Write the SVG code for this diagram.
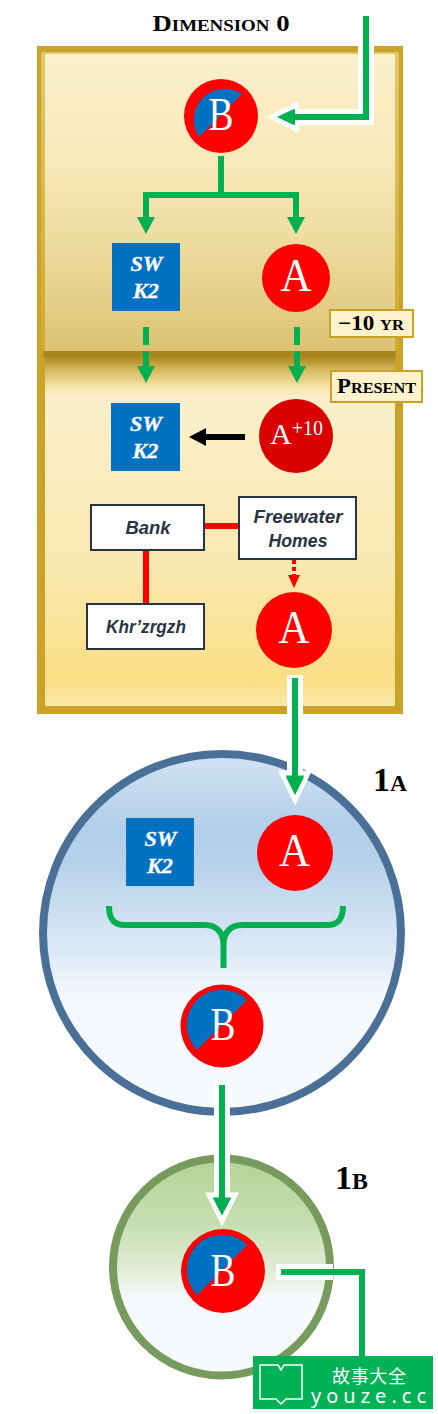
<svg xmlns="http://www.w3.org/2000/svg" width="438" height="1414" viewBox="0 0 438 1414">
<style>
.g{fill:none;stroke:#00b050;stroke-width:6}
.w{fill:none;stroke:#fff;stroke-width:16}
.ga{fill:#00b050}
.wa{fill:#00b050;stroke:#fff;stroke-width:5}
.r{fill:none;stroke:#f00;stroke-width:6}
.ltr{font-family:"Liberation Serif",serif;fill:#fff;text-anchor:middle}
.sw{font-family:"Liberation Serif",serif;font-weight:bold;font-style:italic;font-size:22px;fill:#fff;stroke:#fff;stroke-width:0.300;text-anchor:middle}
.sc{font-family:"Liberation Serif",serif;font-weight:bold;font-variant:small-caps;fill:#000;text-anchor:middle}
.box{fill:#fff;stroke:#2a3342;stroke-width:2}
.bt{font-family:"Liberation Sans",sans-serif;font-weight:bold;font-style:italic;font-size:18px;fill:#2a3342;text-anchor:middle}
.lab{fill:#fff2cc;stroke:#c9a227;stroke-width:2}
.blue{fill:#0070c0}
.red{fill:#f00}
</style>
<defs>
<linearGradient id="p1" x1="0" y1="0" x2="0" y2="1">
<stop offset="0" stop-color="#fbf0cd"/><stop offset="0.35" stop-color="#f8e9ba"/><stop offset="0.7" stop-color="#ebd898"/><stop offset="1" stop-color="#dcc172"/>
</linearGradient>
<linearGradient id="p2" x1="0" y1="0" x2="0" y2="1">
<stop offset="0" stop-color="#a8841c"/><stop offset="0.025" stop-color="#b3902a"/><stop offset="0.05" stop-color="#d4b558"/><stop offset="0.1" stop-color="#f4e2a8"/><stop offset="0.13" stop-color="#fbf0cc"/><stop offset="0.6" stop-color="#f9e8b0"/><stop offset="0.93" stop-color="#fbdf85"/><stop offset="1" stop-color="#f8e8a8"/>
</linearGradient>
<linearGradient id="band" x1="0" y1="0" x2="0" y2="1">
<stop offset="0" stop-color="#e2c76e"/><stop offset="1" stop-color="#cfa92c"/>
</linearGradient>
<linearGradient id="c1" x1="0" y1="0" x2="0" y2="1">
<stop offset="0" stop-color="#d2e2f3"/><stop offset="0.2" stop-color="#b2cfe9"/><stop offset="0.3" stop-color="#b6d1ea"/><stop offset="0.55" stop-color="#dce9f5"/><stop offset="0.68" stop-color="#f5f9fd"/><stop offset="1" stop-color="#f7fafd"/>
</linearGradient>
<linearGradient id="c2" x1="0" y1="0" x2="0" y2="1">
<stop offset="0" stop-color="#b3d297"/><stop offset="0.3" stop-color="#c6dfb1"/><stop offset="0.5" stop-color="#dfebd3"/><stop offset="0.65" stop-color="#f5f9fc"/><stop offset="1" stop-color="#f7fafd"/>
</linearGradient>
<g id="bnode">
<circle r="37" fill="#f00"/>
<path d="M21,-22A31,31 0 0 0 -22,21Z" fill="#0070c0"/>
</g>
</defs>

<text class="sc" x="221" y="31" font-size="24" textLength="137" lengthAdjust="spacingAndGlyphs">Dimension 0</text>

<g id="panel">
<rect x="37" y="46" width="366" height="668" fill="#c9a227"/>
<rect x="41" y="52" width="358" height="299" fill="url(#band)"/>
<rect x="45" y="54" width="350" height="297" fill="url(#p1)"/>
<rect x="45" y="351" width="350" height="355" fill="url(#p2)"/>
<rect x="43" y="351" width="353" height="7" fill="#a8841c" opacity="0.7"/>
</g>

<g id="connectors">
<path class="w" d="M366,46V117H296"/>
<path class="wa" d="M296,105L272,117L296,129Z"/>
<path class="g" d="M366,16V117H292"/>
<path class="ga" d="M295,109L277,117L295,125Z"/>
<path class="g" d="M221,156V198M221,195H146V218M221,195H296V218"/>
<path class="ga" d="M137,217H155L146,234ZM287,217H305L296,234Z"/>
<path class="g" d="M146,327V345M146,351V367"/>
<path class="ga" d="M137,366H155L146,383Z"/>
<path class="g" d="M297,327V345M297,351V367"/>
<path class="ga" d="M288,366H306L297,383Z"/>
<path d="M245,437H204" fill="none" stroke="#000" stroke-width="6"/>
<path d="M206,428V446L189,437Z" fill="#000"/>
<path class="r" d="M205,526H238M146,551V603"/>
<path d="M294,560V575" fill="none" stroke="#f00" stroke-width="4" stroke-dasharray="4 3"/>
<path d="M288,575H300L294,588Z" fill="#f00"/>
</g>

<g id="circle1a">
<circle cx="222" cy="933" r="179" fill="url(#c1)" stroke="#4a7097" stroke-width="8"/>
<text class="sc" x="390" y="791" font-size="33" textLength="34" lengthAdjust="spacingAndGlyphs">1a</text>
</g>
<g id="circle1b">
<circle cx="221.500" cy="1267" r="108.500" fill="url(#c2)" stroke="#779b5c" stroke-width="8"/>
<text class="sc" x="351.500" y="1189" font-size="33" textLength="33" lengthAdjust="spacingAndGlyphs">1b</text>
</g>

<g id="connectors2">
<path class="w" d="M295,675V775"/>
<path d="M282,773H308L295,800Z" fill="#00b050" stroke="#fff" stroke-width="5"/>
<path class="g" d="M295,678V780"/>
<path class="ga" d="M286,777H304L295,795Z"/>
<path class="g" d="M109,906C109,918 113,925 125,925H205C216,925 223.500,932 223.500,945V968M223.500,945C223.500,932 231,925 242,925H327C339,925 343,918 343,906"/>
<path class="w" d="M222,1083V1196"/>
<path d="M209,1195H235L222,1221Z" fill="#00b050" stroke="#fff" stroke-width="5"/>
<path class="g" d="M222,1085V1200"/>
<path class="ga" d="M213,1198H231L222,1215Z"/>
<path class="w" d="M276,1272H333"/>
<path class="g" d="M281,1272H362V1358"/>
</g>

<g id="b1"><use href="#bnode" x="221" y="116"/><text class="ltr" x="221" y="129.500" font-size="46" textLength="25" lengthAdjust="spacingAndGlyphs">B</text></g>
<g id="sw1"><rect class="blue" x="112" y="243" width="68" height="68"/><text class="sw" x="146.500" y="271" textLength="32" lengthAdjust="spacingAndGlyphs">SW</text><text class="sw" x="146" y="298" textLength="26" lengthAdjust="spacingAndGlyphs">K2</text></g>
<g id="a1"><circle class="red" cx="296" cy="278" r="34"/><text class="ltr" x="296" y="291" font-size="46" textLength="31" lengthAdjust="spacingAndGlyphs">A</text></g>
<g id="lab10"><rect class="lab" x="330" y="310" width="83" height="27"/><text class="sc" x="371" y="330" font-size="21" textLength="66" lengthAdjust="spacingAndGlyphs">−10 yr</text></g>
<g id="labpresent"><rect class="lab" x="331" y="371" width="91" height="31"/><text class="sc" x="376.500" y="393" font-size="21" textLength="79" lengthAdjust="spacingAndGlyphs">Present</text></g>
<g id="sw2"><rect class="blue" x="111" y="403" width="69" height="68"/><text class="sw" x="146" y="431" textLength="32" lengthAdjust="spacingAndGlyphs">SW</text><text class="sw" x="145.500" y="458" textLength="26" lengthAdjust="spacingAndGlyphs">K2</text></g>
<g id="a10"><circle cx="296" cy="436" r="37" fill="#d90000"/><text class="ltr" x="296.500" y="444"><tspan font-size="30">A</tspan><tspan font-size="20" dy="-9">+10</tspan></text></g>
<g id="bank"><rect class="box" x="91" y="505" width="113" height="45"/><text class="bt" x="148" y="534" textLength="45" lengthAdjust="spacingAndGlyphs">Bank</text></g>
<g id="freewater"><rect class="box" x="239" y="497" width="117" height="62"/><text class="bt" x="298" y="523" textLength="89" lengthAdjust="spacingAndGlyphs">Freewater</text><text class="bt" x="298" y="547" textLength="59" lengthAdjust="spacingAndGlyphs">Homes</text></g>
<g id="khr"><rect class="box" x="87" y="604" width="117" height="45"/><text class="bt" x="146" y="633" textLength="80" lengthAdjust="spacingAndGlyphs">Khr’zrgzh</text></g>
<g id="a2"><circle class="red" cx="294" cy="630" r="38"/><text class="ltr" x="294" y="643" font-size="47" textLength="31" lengthAdjust="spacingAndGlyphs">A</text></g>
<g id="sw3"><rect class="blue" x="126" y="818" width="68" height="68"/><text class="sw" x="160.500" y="846" textLength="32" lengthAdjust="spacingAndGlyphs">SW</text><text class="sw" x="160" y="873" textLength="26" lengthAdjust="spacingAndGlyphs">K2</text></g>
<g id="a3"><circle class="red" cx="295" cy="853" r="38"/><text class="ltr" x="294.500" y="866" font-size="47" textLength="31" lengthAdjust="spacingAndGlyphs">A</text></g>
<g id="b2"><circle class="red" cx="222" cy="1026" r="41.500"/><path d="M247,1000A35,35 0 0 0 197,1050Z" class="blue"/><text class="ltr" x="223" y="1040" font-size="46" textLength="25" lengthAdjust="spacingAndGlyphs">B</text></g>
<g id="b3"><circle class="red" cx="223" cy="1271" r="42"/><path d="M247,1245A35,35 0 0 0 197,1295Z" class="blue"/><text class="ltr" x="223" y="1285.500" font-size="46" textLength="25" lengthAdjust="spacingAndGlyphs">B</text></g>

<g id="watermark">
<rect x="253" y="1356" width="180" height="53" fill="#00b156"/>
<path d="M260,1365H278L281,1370L284,1365H302V1399H286L281,1404L276,1399H260Z" fill="none" stroke="#fff" stroke-width="1.500"/>
<text x="369" y="1383" font-family="'Noto Sans CJK SC',sans-serif" font-size="18" fill="#fff" text-anchor="middle" textLength="74">故事大全</text>
<text x="368.500" y="1403" font-family="'Noto Sans',sans-serif" font-size="20" fill="#fff" text-anchor="middle" textLength="115">youze.cc</text>
</g>
</svg>
